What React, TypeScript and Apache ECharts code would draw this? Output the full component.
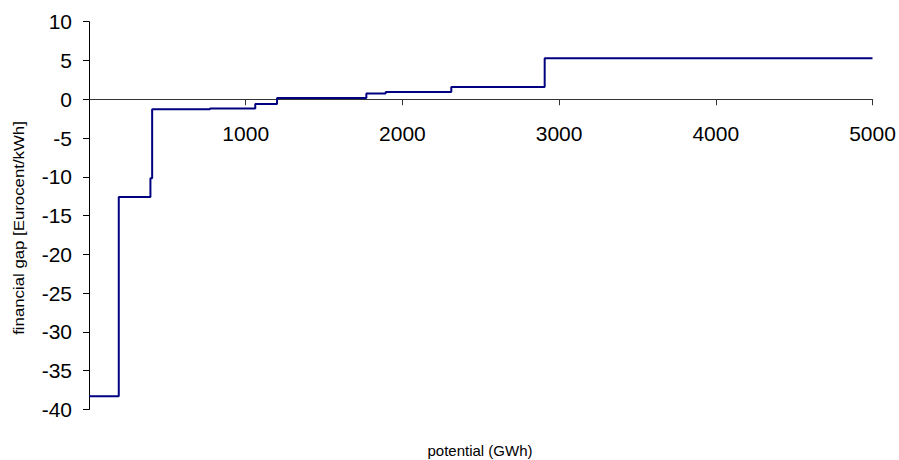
import React, { useEffect, useRef } from "react";
import * as echarts from "echarts";

// Step curve: each point starts a level that holds until the next point
const potentialGWh = [0, 190, 392, 403, 772, 1061, 1200, 1770, 1893, 2312, 2908, 5000];
const financialGap = [-38.3, -12.6, -10.2, -1.28, -1.18, -0.62, 0.15, 0.73, 0.93, 1.58, 5.3, 5.3];

const xTicks = [0, 1000, 2000, 3000, 4000, 5000];
const yTicks = [-40, -35, -30, -25, -20, -15, -10, -5, 0, 5, 10];

const xTitle = "potential (GWh)";
const yTitle = "financial gap [Eurocent/kWh]";

const FONT = "'Liberation Sans', Arial, sans-serif";

const GRID_TOP = 21.7;
const GRID_HEIGHT = 387.8;

export default function App() {
  const ref = useRef<HTMLDivElement>(null);

  useEffect(() => {
    if (!ref.current) return;
    const chart = echarts.init(ref.current, undefined, { renderer: "svg" });
    const data = potentialGWh.map((x, i) => [x, financialGap[i]]);
    const yMin = yTicks[0];
    const yMax = yTicks[yTicks.length - 1];
    // move the x axis (line, ticks and labels) up to the y = 0 level
    const zeroOffset = -GRID_HEIGHT * ((0 - yMin) / (yMax - yMin));
    chart.setOption({
      animation: false,
      backgroundColor: "#ffffff",
      grid: { left: 89, top: GRID_TOP, width: 783.5, height: GRID_HEIGHT, containLabel: false },
      xAxis: {
        type: "value",
        min: xTicks[0],
        max: xTicks[xTicks.length - 1],
        interval: 1000,
        offset: zeroOffset,
        axisLine: { onZero: false, lineStyle: { color: "#333333", width: 1 } },
        axisTick: { show: true, length: 6, lineStyle: { color: "#333333" } },
        axisLabel: {
          showMinLabel: false,
          margin: 24,
          fontSize: 21,
          fontFamily: FONT,
          color: "#000000",
          formatter: (v: number) => (v === 0 ? "" : String(v)),
        },
        splitLine: { show: false },
      },
      yAxis: {
        type: "value",
        min: yMin,
        max: yMax,
        interval: 5,
        axisLine: { show: true, onZero: false, lineStyle: { color: "#000000", width: 1 } },
        axisTick: { show: true, length: 6, lineStyle: { color: "#000000" } },
        axisLabel: {
          margin: 17,
          fontSize: 21,
          fontFamily: FONT,
          color: "#000000",
        },
        splitLine: { show: false },
      },
      graphic: [
        {
          type: "text",
          x: 19,
          y: 228,
          rotation: Math.PI / 2,
          scaleX: 1.12,
          style: {
            text: yTitle,
            align: "center",
            verticalAlign: "middle",
            font: `15px ${FONT}`,
            fill: "#000000",
          },
        },
        {
          type: "text",
          x: 480,
          y: 450,
          style: {
            text: xTitle,
            align: "center",
            verticalAlign: "middle",
            font: `15px ${FONT}`,
            fill: "#000000",
          },
        },
      ],
      series: [
        {
          type: "line",
          step: "end",
          data,
          symbol: "none",
          lineStyle: { color: "#000080", width: 2 },
        },
      ],
    });
    return () => chart.dispose();
  }, []);

  return (
    <div
      ref={ref}
      style={{ position: "absolute", left: 0, top: 0, width: 899, height: 460 }}
    />
  );
}
